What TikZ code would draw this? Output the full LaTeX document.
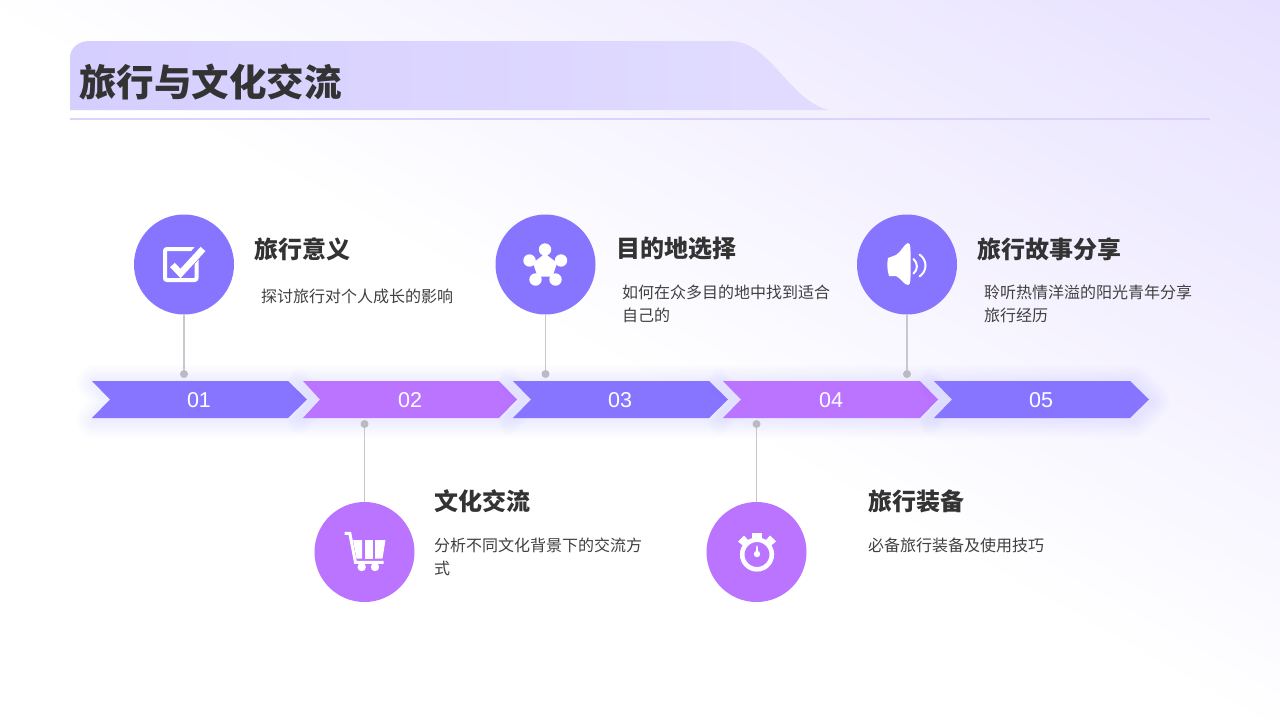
\documentclass[tikz,border=0pt]{standalone}
\usepackage{fontspec}
\setmainfont{Noto Sans CJK SC}
\newfontfamily\latinfont{Liberation Sans}
\usetikzlibrary{calc}
\definecolor{vio}{RGB}{136,117,255}
\definecolor{pur}{RGB}{187,116,255}
\definecolor{ink}{RGB}{51,51,51}
\definecolor{body}{RGB}{64,64,64}
\definecolor{stem}{RGB}{200,200,204}
\definecolor{knob}{RGB}{186,186,192}
\definecolor{glow}{RGB}{115,95,255}
\tikzset{
  x=1pt,y=-1pt,
  disc/.style={circle,minimum size=100pt,inner sep=0pt,draw=none},
  knobdot/.style={circle,fill=knob,minimum size=8pt,inner sep=0pt},
  stemline/.style={draw=stem,line width=1.2pt},
  headtext/.style={anchor=west,inner sep=0pt,font=\fontsize{24}{28}\selectfont\bfseries,text=ink},
  bodytext/.style={anchor=north west,inner sep=0pt,align=left,text=body,font=\fontsize{16}{23}\selectfont},
  numtext/.style={inner sep=0pt,text=white,font=\latinfont\fontsize{21.5}{24}\selectfont},
  icon/.style={fill=white,draw=none},
  iconline/.style={draw=white,fill=none,line cap=round,line join=round},
}
% one chevron: #1 left edge, #2 notch, #3 shoulder, #4 tip
\newcommand\chevpath[4]{(#1,381) -- (#3,381) -- (#4,399.5) -- (#3,418) -- (#1,418) -- (#2,399.5) -- cycle}
\newcommand\chev[5]{%
  \foreach \w in {4,8,...,36}{
    \draw[draw=glow,opacity=.013,line width=\w pt,line join=round,fill=none,shift={(3,2)}] \chevpath{#1}{#2}{#3}{#4};
  }
  \fill[#5] \chevpath{#1}{#2}{#3}{#4};
}
\begin{document}
\begin{tikzpicture}
\useasboundingbox (0,0) rectangle (1280,720);
% page wash: stacked half-planes along the diagonal towards the top right
\begin{scope}
  \clip (0,0) rectangle (1280,720);
  \fill[white] (0,0) rectangle (1280,720);
  \foreach \s in {0,6,...,648}{
    \pgfmathsetmacro\tt{\s/646}
    \pgfmathsetmacro\cr{1-0.095*\tt}
    \pgfmathsetmacro\cg{1-0.12*\tt}
    \definecolor{washc}{rgb}{\cr,\cg,1}
    \pgfmathsetmacro\px{0.491*\s}
    \pgfmathsetmacro\py{20-0.871*\s}
    \fill[washc] (\px-1742,\py-982) -- (\px+1742,\py+982)
      -- (\px+1742+982,\py+982-1742) -- (\px-1742+982,\py-982-1742) -- cycle;
  }
\end{scope}

% header band and rule
\begin{scope}
  \clip (70,110) -- (70,58) .. controls (70,48) and (78,41) .. (90,41)
    -- (728,41) .. controls (750,41) and (761,53) .. (775,67)
    .. controls (792,85) and (805,103) .. (828,110) -- cycle;
  \foreach \i in {0,1,...,38}{
    \pgfmathsetmacro\tt{\i/38}
    \pgfmathsetmacro\cr{0.835+0.05*\tt}
    \pgfmathsetmacro\cg{0.81+0.055*\tt}
    \definecolor{bandc}{rgb}{\cr,\cg,1}
    \fill[bandc] (70+\i*20,30) rectangle (91+\i*20,120);
  }
\end{scope}
\draw[draw=vio!32!white,line width=1.5pt] (70,119) -- (1210,119);
\node[anchor=west,inner sep=0pt,text=ink,font=\fontsize{37.5}{42}\selectfont\bfseries] (title) at (79,82) {旅行与文化交流};

% chevrons
\chev{92}{110}{288}{307}{vio}
\chev{303}{320}{499}{517}{pur}
\chev{513}{531}{709}{728}{vio}
\chev{723}{741}{920}{938}{pur}
\chev{934}{952}{1130}{1149}{vio}
\node[numtext] (n1) at (199,400) {01};
\node[numtext] (n2) at (410,400) {02};
\node[numtext] (n3) at (620,400) {03};
\node[numtext] (n4) at (831,400) {04};
\node[numtext] (n5) at (1041,400) {05};

% discs, dots, stems
\node[disc,fill=vio] (c1) at (184,264.5) {};
\node[disc,fill=vio] (c3) at (545.5,264.5) {};
\node[disc,fill=vio] (c5) at (907,264.5) {};
\node[disc,fill=pur] (c2) at (364.5,552) {};
\node[disc,fill=pur] (c4) at (756.5,552) {};
\node[knobdot] (d1) at (184,374) {};
\node[knobdot] (d3) at (545.5,374) {};
\node[knobdot] (d5) at (907,374) {};
\node[knobdot] (d2) at (364.5,424) {};
\node[knobdot] (d4) at (756.5,424) {};
\draw[stemline] (c1) -- (d1);
\draw[stemline] (c3) -- (d3);
\draw[stemline] (c5) -- (d5);
\draw[stemline] (c2) -- (d2);
\draw[stemline] (c4) -- (d4);

% texts
\node[headtext] (h1) at (254,249) {旅行意义};
\node[headtext] (h3) at (616,249) {目的地选择};
\node[headtext] (h5) at (977,249) {旅行故事分享};
\node[headtext] (h2) at (434,501) {文化交流};
\node[headtext] (h4) at (868,501) {旅行装备};
\node[bodytext] (b1) at (261,289) {探讨旅行对个人成长的影响};
\node[bodytext] (b3) at (622,285) {如何在众多目的地中找到适合\\自己的};
\node[bodytext] (b5) at (984,285) {聆听热情洋溢的阳光青年分享\\旅行经历};
\node[bodytext] (b2) at (434,538) {分析不同文化背景下的交流方\\式};
\node[bodytext] (b4) at (868,538) {必备旅行装备及使用技巧};

% icon: check box
\draw[draw=white,line width=4pt,rounded corners=2pt] (165,249) rectangle (196.5,280);
\draw[draw=vio,line width=11pt,line cap=butt] (181,271) -- (204,245);
\draw[iconline,line width=6.4pt,line cap=butt,line join=miter] (172.5,265) -- (180.5,273.5) -- (203,249);

% icon: network
\draw[iconline,line width=3.2pt] (545,266) -- (545,249) (545,266) -- (529.5,260) (545,266) -- (561,260) (545,266) -- (535.5,279.5) (545,266) -- (555.5,279.5);
\fill[icon,rounded corners=1.5pt] (545,253.5) -- (557,263) -- (552.5,276.5) -- (537.5,276.5) -- (533,263) -- cycle;
\fill[icon] (545,249.5) circle[radius=6.2pt];
\fill[icon] (529.5,260.5) circle[radius=6.2pt];
\fill[icon] (561,260.5) circle[radius=6.2pt];
\fill[icon] (535.5,279.5) circle[radius=6.2pt];
\fill[icon] (555.5,279.5) circle[radius=6.2pt];

% icon: speaker
\fill[icon] (888,258) -- (896,255) .. controls (902,251) and (904,244) .. (908,243)
  .. controls (911,243) and (910.5,250) .. (910.5,264) .. controls (910.5,278) and (911,285) .. (908,285)
  .. controls (904,285) and (902,279) .. (896,276) -- (889,276) .. controls (887,270) and (887,263) .. (888,258) -- cycle;
\draw[iconline,line width=2pt] (913.5,259) .. controls (918,263) and (918,270) .. (913.5,273.5);
\draw[iconline,line width=2pt] (919.5,254.5) .. controls (927.5,260) and (927.5,271) .. (919.5,276.5);

% icon: cart
\draw[iconline,line width=3pt,line cap=butt,line join=miter] (344.5,533.3) -- (349.8,533.3) -- (355.5,562.3) -- (383.5,562.3);
\fill[icon] (353,540) -- (362,540) -- (362,558.5) -- (356.5,558.5) -- cycle;
\fill[icon] (364.5,540) -- (372.5,540) -- (372.5,558.5) -- (364.5,558.5) -- cycle;
\fill[icon] (375,540) -- (385.5,540) -- (382.5,558.5) -- (375,558.5) -- cycle;
\fill[icon] (361.7,567) circle[radius=4.2pt];
\fill[icon] (375,567) circle[radius=4.2pt];

% icon: stopwatch
\draw[draw=white,line width=4.6pt,fill=none] (757,554.5) circle[radius=14.8pt];
\fill[icon] (752,533) rectangle (762,541);
\fill[icon] (744,535.5) -- (748,540) -- (743.5,546) -- (738,541.5) -- cycle;
\fill[icon] (770,535.5) -- (766,540) -- (770.5,546) -- (776,541.5) -- cycle;
\fill[icon] (757,554) circle[radius=3.2pt];
\fill[icon] (755.8,553) -- (756.4,545.5) -- (757.6,545.5) -- (758.2,553) -- cycle;
\end{tikzpicture}
\end{document}
